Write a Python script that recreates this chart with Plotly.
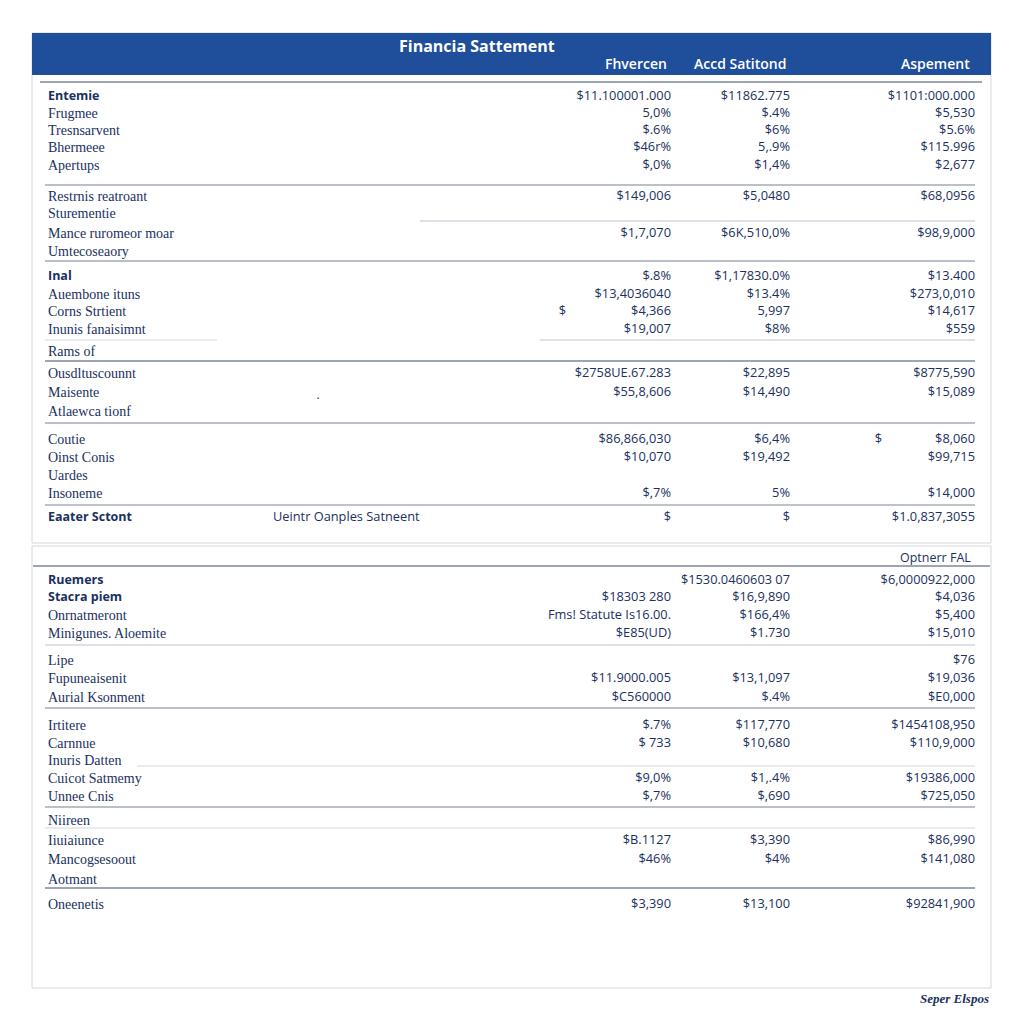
import plotly.graph_objects as go

# ---------------- data ----------------
title_text = "Financia Sattement"
col_headers = ["Fhvercen", "Accd Satitond", "Aspement"]

top_labels = ["Entemie", "Frugmee", "Tresnsarvent", "Bhermeee", "Apertups",
              "Restrnis reatroant", "Sturementie", "Mance ruromeor moar", "Umtecoseaory",
              "Inal", "Auembone ituns", "Corns Strtient", "Inunis fanaisimnt", "Rams of",
              "Ousdltuscounnt", "Maisente", "Atlaewca tionf",
              "Coutie", "Oinst Conis", "Uardes", "Insoneme", "Eaater Sctont"]
top_c1 = ["$11.100001.000", "5,0%", "$.6%", "$46r%", "$,0%",
          "$149,006", "", "$1,7,070", "",
          "$.8%", "$13,4036040", "$4,366", "$19,007", "",
          "$2758UE.67.283", "$55,8,606", "",
          "$86,866,030", "$10,070", "", "$,7%", "$"]
top_c2 = ["$11862.775", "$.4%", "$6%", "5,.9%", "$1,4%",
          "$5,0480", "", "$6K,510,0%", "",
          "$1,17830.0%", "$13.4%", "5,997", "$8%", "",
          "$22,895", "$14,490", "",
          "$6,4%", "$19,492", "", "5%", "$"]
top_c3 = ["$1101:000.000", "$5,530", "$5.6%", "$115.996", "$2,677",
          "$68,0956", "", "$98,9,000", "",
          "$13.400", "$273,0,010", "$14,617", "$559", "",
          "$8775,590", "$15,089", "",
          "$8,060", "$99,715", "", "$14,000", "$1.0,837,3055"]
top_extra_text = ["$", "$", "Ueintr Oanples Satneent", "."]

bottom_header = "Optnerr FAL"
bot_labels = ["Ruemers", "Stacra piem", "Onrnatmeront", "Minigunes. Aloemite",
              "Lipe", "Fupuneaisenit", "Aurial Ksonment",
              "Irtitere", "Carnnue", "Inuris Datten", "Cuicot Satmemy", "Unnee Cnis",
              "Niireen", "Iiuiaiunce", "Mancogsesoout", "Aotmant", "Oneenetis"]
bot_c1 = ["", "$18303 280", "Fms! Statute Is16.00.", "$E85(UD)",
          "", "$11.9000.005", "$C560000",
          "$.7%", "$ 733", "", "$9,0%", "$,7%",
          "", "$B.1127", "$46%", "", "$3,390"]
bot_c2 = ["$1530.0460603 07", "$16,9,890", "$166,4%", "$1.730",
          "", "$13,1,097", "$.4%",
          "$117,770", "$10,680", "", "$1,.4%", "$,690",
          "", "$3,390", "$4%", "", "$13,100"]
bot_c3 = ["$6,0000922,000", "$4,036", "$5,400", "$15,010",
          "$76", "$19,036", "$E0,000",
          "$1454108,950", "$110,9,000", "", "$19386,000", "$725,050",
          "", "$86,990", "$141,080", "", "$92841,900"]
footer_text = "Seper Elspos"

# ---------------- layout / style ----------------
NAVY = "#1a3160"
BLUE = "#1f4e9b"
DARK_LINE = "#7d8799"
MID_LINE = "#a3abb9"
LIGHT_LINE = "#d3d8e0"
LABEL_FONT = "Liberation Serif"
NUM_FONT = "Open Sans"

top_row_y = [97, 114, 131, 148, 166, 197, 214, 234, 252, 277, 295, 312, 330, 352,
             374, 393, 412, 440, 458, 476, 494, 518]
bot_row_y = [581, 598, 616, 634, 661, 679, 698, 726, 744, 761, 779, 797, 821, 841,
             860, 880, 905]
col_x = [671, 790, 975]
label_x = 48
top_bold = {0, 9, 21}
bot_bold = {0, 1}
top_extra_pos = [(566, 312), (882, 440), (273, 518), (318, 396)]

fig = go.Figure()


def add_text(xs, ys, texts, pos, size, family, color=NAVY, weight="normal"):
    fig.add_trace(go.Scatter(
        x=xs, y=ys, text=texts, mode="text", textposition=pos,
        textfont=dict(size=size, family=family, color=color, weight=weight),
        hoverinfo="skip", showlegend=False, cliponaxis=False))


def add_section(labels, c1, c2, c3, ys, bold_idx):
    reg = [i for i in range(len(labels)) if i not in bold_idx]
    bld = [i for i in range(len(labels)) if i in bold_idx]
    add_text([label_x] * len(reg), [ys[i] for i in reg], [labels[i] for i in reg],
             "middle right", 14, LABEL_FONT)
    add_text([label_x] * len(bld), [ys[i] for i in bld], [labels[i] for i in bld],
             "middle right", 12.5, NUM_FONT, weight=700)
    for cx, col in zip(col_x, (c1, c2, c3)):
        add_text([cx] * len(col), ys, col, "middle left", 12.8, NUM_FONT)


add_section(top_labels, top_c1, top_c2, top_c3, top_row_y, top_bold)
add_section(bot_labels, bot_c1, bot_c2, bot_c3, bot_row_y, bot_bold)

# extra stray texts in top panel
add_text([top_extra_pos[0][0], top_extra_pos[1][0]], [top_extra_pos[0][1], top_extra_pos[1][1]],
         top_extra_text[:2], "middle left", 12.8, NUM_FONT)
add_text([top_extra_pos[2][0]], [top_extra_pos[2][1]], [top_extra_text[2]],
         "middle right", 12.8, NUM_FONT)
add_text([top_extra_pos[3][0]], [top_extra_pos[3][1]], [top_extra_text[3]],
         "middle center", 12, NUM_FONT)

shapes = []
# panels
shapes.append(dict(type="rect", x0=32, x1=991, y0=33, y1=543,
                   line=dict(color=LIGHT_LINE, width=1), fillcolor="white", layer="below"))
shapes.append(dict(type="rect", x0=32, x1=991, y0=546, y1=988,
                   line=dict(color=LIGHT_LINE, width=1), fillcolor="white", layer="below"))
shapes.append(dict(type="rect", x0=32, x1=991, y0=33, y1=75,
                   line=dict(width=0), fillcolor=BLUE, layer="below"))

rules = [
    (82, 40, 982, DARK_LINE, 1.6),
    (185, 45, 975, MID_LINE, 1.6),
    (221, 420, 975, LIGHT_LINE, 1.3),
    (261, 45, 975, MID_LINE, 1.4),
    (340, 45, 217, LIGHT_LINE, 1.2),
    (340, 540, 975, LIGHT_LINE, 1.3),
    (361, 45, 975, DARK_LINE, 1.4),
    (423, 45, 975, MID_LINE, 1.4),
    (505, 45, 975, DARK_LINE, 1.2),
    (566, 33, 990, DARK_LINE, 1.6),
    (645, 45, 975, LIGHT_LINE, 1.4),
    (708, 45, 975, MID_LINE, 1.4),
    (766, 137, 975, LIGHT_LINE, 1.2),
    (807, 45, 975, MID_LINE, 1.3),
    (828, 45, 975, LIGHT_LINE, 1.2),
    (888, 45, 975, DARK_LINE, 1.6),
]
for y, x0, x1, c, w in rules:
    shapes.append(dict(type="line", x0=x0, x1=x1, y0=y, y1=y,
                       line=dict(color=c, width=w), layer="below"))

annotations = [
    dict(x=477, y=46, text=title_text, showarrow=False,
         xanchor="center", yanchor="middle",
         font=dict(size=16, family=NUM_FONT, color="white", weight=700)),
]
for hx, h in zip([669, 788, 972], col_headers):
    annotations.append(dict(x=hx, y=63, text=h, showarrow=False, xanchor="right",
                            yanchor="middle",
                            font=dict(size=14, family=NUM_FONT, color="white", weight=600)))
annotations.append(dict(x=973, y=557, text=bottom_header, showarrow=False,
                        xanchor="right", yanchor="middle",
                        font=dict(size=12.5, family=NUM_FONT, color=NAVY)))
annotations.append(dict(x=991, y=998, text="<i>%s</i>" % footer_text,
                        showarrow=False, xanchor="right", yanchor="middle",
                        font=dict(size=13, family=LABEL_FONT, color=NAVY, weight=700)))

fig.update_layout(
    width=1024, height=1024, autosize=False,
    margin=dict(l=0, r=0, t=0, b=0),
    paper_bgcolor="white", plot_bgcolor="white",
    xaxis=dict(range=[0, 1024], visible=False, fixedrange=True),
    yaxis=dict(range=[1024, 0], visible=False, fixedrange=True),
    shapes=shapes, annotations=annotations,
    hovermode=False,
)

fig.write_html("out.html", config={"displayModeBar": False},
               post_script="document.body.style.margin='0';")
